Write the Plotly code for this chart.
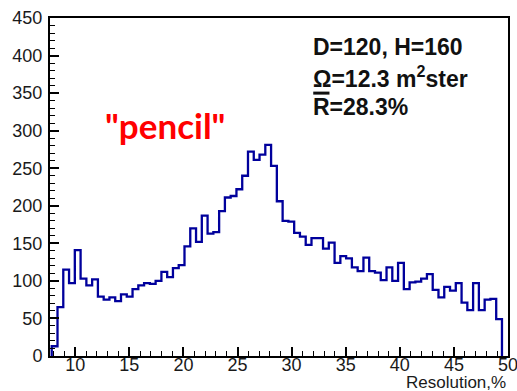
import numpy as np
import plotly.graph_objects as go

# Histogram: resolution (%) counts, 78 bins
bin_lo = 7.83
bin_width = 0.5335
counts = [13, 65, 115, 97, 141, 103, 94, 102, 79, 75,
          78, 73, 82, 79, 89, 94, 97, 96, 100, 112,
          105, 117, 121, 146, 170, 152, 187, 163, 165, 193,
          211, 213, 222, 240, 272, 261, 268, 281, 253, 206,
          180, 179, 164, 159, 148, 157, 157, 143, 151, 124,
          133, 130, 118, 113, 131, 113, 111, 101, 118, 100,
          124, 89, 98, 99, 103, 109, 88, 78, 92, 87,
          97, 71, 61, 97, 61, 75, 76, 49]

x_ticks = [10, 15, 20, 25, 30, 35, 40, 45, 50]
y_ticks = [0, 50, 100, 150, 200, 250, 300, 350, 400, 450]

edges = bin_lo + bin_width * np.arange(len(counts) + 1)
xs = [edges[0]] + list(edges[:-1]) + [edges[-1]]
ys = [0] + counts + [0]

fig = go.Figure()
fig.add_trace(go.Scatter(x=xs, y=ys, mode="lines", line_shape="hv",
                         line=dict(color="#00009c", width=2.3),
                         hoverinfo="skip", showlegend=False))

tickfont = dict(family="Liberation Sans, Arial, sans-serif", size=18, color="#1a1a1a")
fig.update_layout(
    width=517, height=391,
    margin=dict(l=50, r=9, t=18, b=35),
    paper_bgcolor="white", plot_bgcolor="white",
    xaxis=dict(range=[7.67, 50], tickvals=x_ticks, ticks="inside", ticklen=9,
               tickwidth=1.6, tickcolor="black", showline=True, linecolor="black",
               linewidth=2, mirror=True, showgrid=False, zeroline=False,
               tickfont=tickfont, ticklabelstandoff=-9, automargin=False,
               ticklabeloverflow="allow",
               minor=dict(dtick=1, ticks="inside", ticklen=5, tickwidth=1.3,
                          tickcolor="black", showgrid=False)),
    yaxis=dict(range=[0, 450], tickvals=y_ticks, ticks="inside", ticklen=9,
               tickwidth=1.6, tickcolor="black", showline=True, linecolor="black",
               linewidth=2, mirror=True, showgrid=False, zeroline=False,
               tickfont=tickfont, ticklabelstandoff=2, automargin=False,
               ticklabeloverflow="allow",
               minor=dict(dtick=10, ticks="inside", ticklen=5, tickwidth=1.3,
                          tickcolor="black", showgrid=False)),
)

boxfont = dict(family="Liberation Sans, Arial, sans-serif", size=23, color="#111111")
bx = 31.8
fig.add_annotation(x=bx, y=410.8, xref="x", yref="y", text="<b>D=120, H=160</b>",
                   showarrow=False, xanchor="left", yanchor="middle", font=boxfont)
fig.add_annotation(x=bx, y=372, xref="x", yref="y",
                   text="<b>Ω=12.3 m<sup>2</sup>ster</b>",
                   showarrow=False, xanchor="left", yanchor="middle", font=boxfont)
fig.add_annotation(x=bx, y=331, xref="x", yref="y", text="<b>R=28.3%</b>",
                   showarrow=False, xanchor="left", yanchor="middle", font=boxfont)
# overline above R (mean)
fig.add_shape(type="rect", xref="x", yref="y", x0=bx + 0.2, x1=bx + 1.7, y0=348, y1=352,
              fillcolor="#111111", line=dict(width=0))

fig.add_annotation(x=18.3, y=307, xref="x", yref="y", text='<b>"pencil"</b>',
                   showarrow=False, xanchor="center", yanchor="middle",
                   font=dict(family="Lato, Open Sans, sans-serif", size=35, color="#ff0000"))

fig.add_annotation(x=1, y=0, xref="paper", yref="paper", text="Resolution,%",
                   showarrow=False, xanchor="right", yanchor="middle", yshift=-26,
                   font=dict(family="Liberation Sans, Arial, sans-serif", size=17, color="#1a1a1a"))

fig.write_html("out.html")
